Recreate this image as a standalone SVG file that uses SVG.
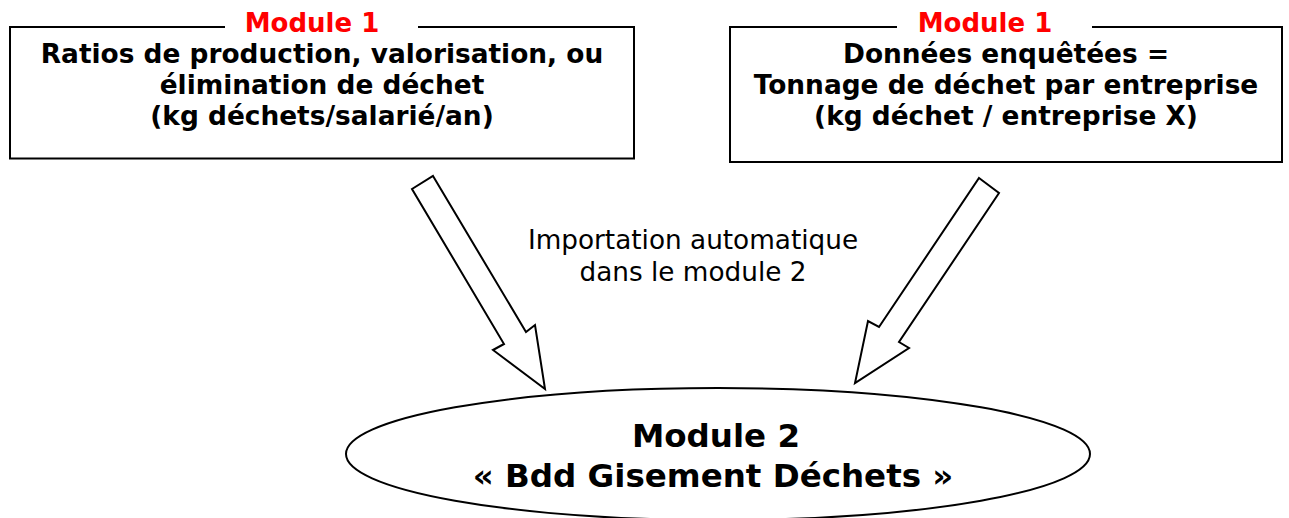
<svg xmlns="http://www.w3.org/2000/svg" width="1289" height="518" viewBox="0 0 1289 518">
<style>
.box{fill:#fff;stroke:#000;stroke-width:2}
.gap{fill:#fff;stroke:none}
.lbl{font-family:"DejaVu Sans",Verdana,sans-serif;font-weight:bold;font-size:26px;fill:#ff0000;text-anchor:middle}
.txt{font-family:"DejaVu Sans",Verdana,sans-serif;font-weight:bold;font-size:26.4px;fill:#000;text-anchor:middle}
.mid{font-family:"DejaVu Sans",Verdana,sans-serif;font-size:26.3px;fill:#000;text-anchor:middle}
.big{font-family:"DejaVu Sans",Verdana,sans-serif;font-weight:bold;font-size:32.5px;fill:#000;text-anchor:middle}
.arrow{fill:#fff;stroke:#000;stroke-width:2;stroke-linejoin:miter}
</style>
<rect width="1289" height="518" fill="#fff"/>
<g id="connectors">
<polygon class="arrow" points="433,176 526,332 535,325 545,389 493,350 504,344 412,189"/>
<polygon class="arrow" points="979,178 999,193 899,342 909,348 855,383 868,321 879,327"/>
<g id="connector-label">
<text class="mid" x="693" y="249">Importation automatique</text>
<text class="mid" x="693" y="281">dans le module 2</text>
</g>
</g>
<g id="node-ratios">
<rect class="box" x="10" y="27" width="624" height="131.5"/>
<rect class="gap" x="225" y="18" width="193" height="16"/>
<text class="lbl" x="312" y="32">Module 1</text>
<text class="txt" x="322" y="63">Ratios de production, valorisation, ou</text>
<text class="txt" x="322" y="94">élimination de déchet</text>
<text class="txt" x="322" y="125">(kg déchets/salarié/an)</text>
</g>
<g id="node-donnees">
<rect class="box" x="730" y="27" width="552" height="135"/>
<rect class="gap" x="897" y="18" width="195" height="16"/>
<text class="lbl" x="985" y="32">Module 1</text>
<text class="txt" x="1006" y="63">Données enquêtées =</text>
<text class="txt" x="1006" y="94">Tonnage de déchet par entreprise</text>
<text class="txt" x="1006" y="125">(kg déchet / entreprise X)</text>
</g>
<g id="node-module2">
<ellipse class="box" cx="718" cy="454" rx="372" ry="66"/>
<text class="big" x="716" y="447">Module 2</text>
<text class="big" x="713" y="487">« Bdd Gisement Déchets »</text>
</g>
</svg>
